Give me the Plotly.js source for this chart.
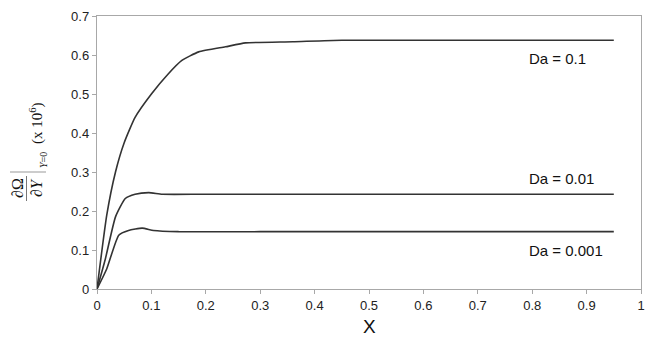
<!DOCTYPE html>
<html>
<head>
<meta charset="utf-8">
<script src="https://cdn.plot.ly/plotly-3.0.1.min.js"></script>
<style>
html,body{margin:0;padding:0;background:#fff;}
#chart{width:659px;height:353px;}
</style>
</head>
<body>
<div id="chart"></div>
<script>
// Data
const xDa01  = [0, 0.018, 0.034, 0.05, 0.07, 0.1, 0.13, 0.156, 0.187, 0.236, 0.273, 0.36, 0.45, 0.95];
const yDa01  = [0, 0.19, 0.30, 0.375, 0.44, 0.50, 0.55, 0.586, 0.608, 0.621, 0.631, 0.634, 0.638, 0.638];
const xDa001 = [0, 0.015, 0.034, 0.052, 0.07, 0.095, 0.12, 0.2, 0.95];
const yDa001 = [0, 0.075, 0.185, 0.232, 0.243, 0.247, 0.243, 0.243, 0.243];
const xDa0001 = [0, 0.018, 0.04, 0.058, 0.083, 0.104, 0.15, 0.3, 0.95];
const yDa0001 = [0, 0.052, 0.138, 0.15, 0.156, 0.15, 0.147, 0.147, 0.147];
const seriesLabels = ["Da = 0.1", "Da = 0.01", "Da = 0.001"];
const xTitle = "X";

// layout geometry (pixels)
const W = 659, H = 353;
const M = {l: 97, r: 18, t: 16, b: 64};
const PW = W - M.l - M.r, PH = H - M.t - M.b;
const px = p => (p - M.l) / PW;
const py = p => (H - M.b - p) / PH;

const lineStyle = {color: '#333333', width: 1.6, shape: 'spline', smoothing: 0.5};
const traces = [
  {x: xDa01, y: yDa01, name: seriesLabels[0]},
  {x: xDa001, y: yDa001, name: seriesLabels[1]},
  {x: xDa0001, y: yDa0001, name: seriesLabels[2]}
].map(t => Object.assign(t, {type: 'scatter', mode: 'lines', line: lineStyle, hoverinfo: 'skip'}));

const serif = 'Liberation Serif, Times New Roman, serif';
const sans = 'Liberation Sans, Arial, sans-serif';

const annotations = [
  {xref: 'x', yref: 'y', x: 0.79, y: 0.592, text: seriesLabels[0], xanchor: 'left', yanchor: 'middle'},
  {xref: 'x', yref: 'y', x: 0.79, y: 0.284, text: seriesLabels[1], xanchor: 'left', yanchor: 'middle'},
  {xref: 'x', yref: 'y', x: 0.79, y: 0.0975, text: seriesLabels[2], xanchor: 'left', yanchor: 'middle'}
].map(a => Object.assign(a, {showarrow: false, font: {family: sans, size: 15, color: '#111'}}));

// y-axis title built as a rotated fraction
const yt = [
  {x: px(17), y: py(188), text: '∂Ω', size: 16},
  {x: px(36), y: py(188), text: '∂<i>Y</i>', size: 16},
  {x: px(43), y: py(160), text: '<i>Y</i>=0', size: 10},
  {x: px(36), y: py(123), text: '(x 10<sup>6</sup>)', size: 15}
];
yt.forEach(a => annotations.push({xref: 'paper', yref: 'paper', x: a.x, y: a.y, text: a.text,
  textangle: -90, showarrow: false, xanchor: 'center', yanchor: 'middle',
  font: {family: serif, size: a.size, color: '#111'}}));
annotations.push({xref: 'paper', yref: 'paper', x: px(369), y: py(326), text: xTitle,
  showarrow: false, xanchor: 'center', yanchor: 'middle', font: {family: sans, size: 19, color: '#111'}});

const shapes = [
  {type: 'line', xref: 'paper', yref: 'paper', x0: px(26.5), x1: px(26.5), y0: py(176), y1: py(201), line: {color: '#777', width: 1}},
  {type: 'line', xref: 'paper', yref: 'paper', x0: px(10), x1: px(46), y0: py(172), y1: py(172), line: {color: '#999', width: 1}}
];

const axisCommon = {
  showgrid: false, zeroline: false, showline: true, linecolor: '#a8a8a8', linewidth: 1.2, mirror: true,
  ticks: 'outside', ticklen: 4, tickcolor: '#a8a8a8', tickwidth: 1,
  tickfont: {family: sans, size: 13, color: '#222'}, fixedrange: true
};

const layout = {
  width: W, height: H,
  margin: M,
  paper_bgcolor: '#fff', plot_bgcolor: '#fff',
  showlegend: false,
  xaxis: Object.assign({}, axisCommon, {range: [0, 1], dtick: 0.1, tick0: 0}),
  yaxis: Object.assign({}, axisCommon, {range: [0, 0.7], dtick: 0.1, tick0: 0}),
  annotations: annotations,
  shapes: shapes
};

Plotly.newPlot('chart', traces, layout, {displayModeBar: false, staticPlot: true});
</script>
</body>
</html>
